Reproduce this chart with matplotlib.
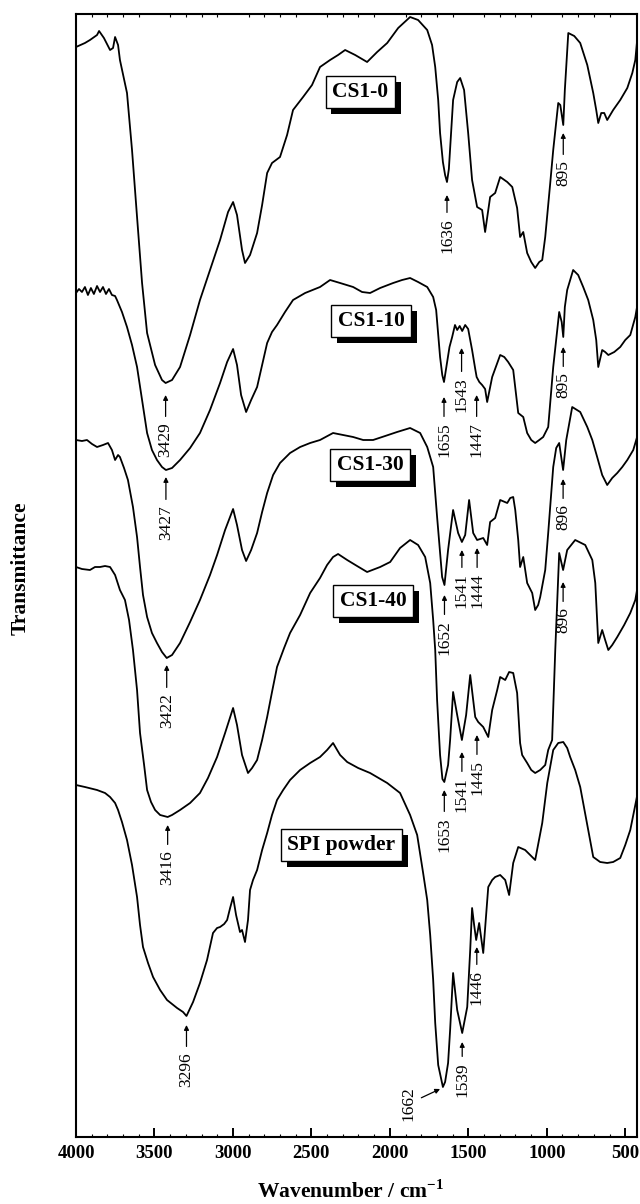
import matplotlib.pyplot as plt
import matplotlib.patheffects as pe
from matplotlib.ticker import MultipleLocator

plt.rcParams['font.family'] = ['Liberation Serif', 'DejaVu Serif']
plt.rcParams['mathtext.fontset'] = 'custom'
plt.rcParams['mathtext.rm'] = 'Liberation Serif:bold'
plt.rcParams['mathtext.bf'] = 'Liberation Serif:bold'

# FTIR spectra, wavenumber (cm-1) and stacked transmittance (a.u.)
cs0_wn = [4000, 3943, 3911, 3866, 3853, 3822, 3783, 3764, 3751, 3732, 3720, 3675, 3643, 3611, 3579,
          3547, 3496, 3452, 3429, 3388, 3337, 3273, 3210, 3146, 3082, 3031, 2999, 2974, 2942, 2923,
          2891, 2846, 2814, 2782, 2751, 2700, 2655, 2617, 2553, 2496, 2445, 2381, 2330, 2285, 2221,
          2145, 2081, 2017, 1947, 1871, 1820, 1762, 1731, 1711, 1692, 1680, 1662, 1648, 1636, 1624,
          1597, 1571, 1552, 1527, 1501, 1476, 1444, 1412, 1393, 1361, 1329, 1297, 1252, 1220, 1189,
          1170, 1150, 1125, 1099, 1074, 1048, 1029, 1010, 978, 959, 927, 914, 895, 885, 863,
          825, 787, 742, 704, 685, 672, 653, 634, 615, 577, 532, 487, 455, 436, 424]
cs0_t = [1090, 1094, 1097, 1102, 1106, 1099, 1087, 1089, 1100, 1092, 1077, 1044, 987, 920, 854,
         804, 772, 757, 754, 757, 770, 802, 837, 867, 897, 925, 935, 922, 887, 874,
         882, 904, 932, 964, 974, 980, 1002, 1027, 1040, 1052, 1070, 1077, 1082, 1087, 1082,
         1075, 1085, 1094, 1109, 1120, 1117, 1107, 1092, 1070, 1037, 1004, 975, 962, 955, 968,
         1037, 1055, 1059, 1047, 1004, 957, 930, 927, 905, 940, 944, 960, 955, 950, 929,
         900, 905, 884, 875, 869, 875, 877, 900, 954, 987, 1034, 1032, 1012, 1047, 1104,
         1101, 1094, 1072, 1044, 1027, 1014, 1024, 1024, 1017, 1027, 1037, 1049, 1064, 1077, 1097]

cs10_wn = [4000, 3981, 3962, 3943, 3924, 3905, 3886, 3866, 3847, 3828, 3809, 3790, 3771, 3751, 3739,
           3707, 3675, 3643, 3611, 3579, 3547, 3516, 3484, 3452, 3427, 3388, 3337, 3273, 3210, 3146,
           3082, 3037, 2999, 2974, 2948, 2916, 2884, 2846, 2814, 2782, 2751, 2719, 2668, 2617, 2540,
           2445, 2381, 2317, 2234, 2177, 2126, 2062, 1979, 1922, 1871, 1820, 1762, 1724, 1705, 1680,
           1666, 1655, 1640, 1620, 1603, 1585, 1571, 1555, 1539, 1520, 1501, 1476, 1456, 1447, 1430,
           1412, 1393, 1380, 1348, 1297, 1271, 1246, 1214, 1182, 1150, 1125, 1099, 1074, 1048, 1023,
           991, 959, 921, 905, 895, 885, 870, 832, 800, 768, 736, 704, 685, 672, 647,
           628, 608, 570, 532, 500, 468, 436, 417]
cs10_t = [844, 848, 845, 850, 842, 849, 843, 851, 845, 850, 843, 848, 842, 841, 837,
          825, 810, 792, 770, 737, 704, 687, 677, 670, 667, 669, 677, 689, 704, 727,
          754, 775, 788, 772, 742, 725, 737, 750, 772, 794, 805, 812, 825, 837, 844,
          850, 857, 854, 850, 845, 844, 849, 854, 857, 859, 855, 850, 840, 827, 780,
          762, 755, 770, 790, 800, 812, 807, 811, 806, 812, 808, 787, 768, 760, 755,
          752, 748, 735, 760, 782, 780, 775, 767, 724, 720, 704, 697, 694, 697, 700,
          710, 770, 825, 815, 800, 830, 847, 867, 862, 850, 837, 817, 797, 770, 787,
          785, 782, 785, 790, 797, 802, 820, 837]

cs30_wn = [4000, 3962, 3930, 3898, 3866, 3828, 3796, 3771, 3751, 3732, 3720, 3694, 3669, 3637, 3611,
           3592, 3573, 3547, 3516, 3484, 3452, 3422, 3388, 3337, 3273, 3210, 3146, 3101, 3050, 2999,
           2974, 2942, 2916, 2884, 2846, 2814, 2782, 2744, 2700, 2636, 2572, 2508, 2445, 2362, 2298,
           2234, 2170, 2107, 2030, 1954, 1871, 1807, 1762, 1724, 1699, 1667, 1652, 1629, 1597, 1565,
           1541, 1520, 1495, 1469, 1444, 1405, 1380, 1361, 1329, 1297, 1252, 1233, 1214, 1201, 1182,
           1170, 1150, 1125, 1093, 1074, 1055, 1042, 1010, 991, 959, 940, 921, 896, 876, 838,
           787, 742, 710, 679, 647, 615, 583, 551, 519, 487, 449, 417]
cs30_t = [697, 696, 697, 693, 690, 692, 694, 687, 677, 682, 680, 669, 657, 630, 600,
          570, 542, 520, 504, 494, 485, 479, 482, 494, 515, 537, 562, 582, 607, 628,
          612, 587, 576, 587, 604, 625, 644, 662, 674, 684, 690, 694, 697, 704, 702,
          700, 697, 697, 701, 705, 709, 704, 690, 670, 620, 560, 552, 587, 627, 604,
          595, 602, 637, 604, 597, 599, 592, 615, 619, 637, 634, 639, 640, 627, 597,
          570, 580, 554, 544, 527, 532, 540, 567, 604, 670, 689, 694, 667, 697, 730,
          725, 710, 697, 680, 662, 652, 659, 664, 670, 677, 687, 704]

cs40_wn = [4000, 3962, 3911, 3879, 3847, 3815, 3783, 3751, 3720, 3688, 3662, 3637, 3611, 3592, 3566,
           3547, 3522, 3496, 3464, 3416, 3388, 3337, 3273, 3210, 3159, 3101, 3050, 2999, 2974, 2942,
           2904, 2878, 2846, 2814, 2782, 2751, 2719, 2674, 2636, 2572, 2508, 2445, 2400, 2362, 2330,
           2272, 2209, 2145, 2062, 1998, 1935, 1871, 1820, 1775, 1743, 1724, 1711, 1699, 1680, 1665,
           1653, 1629, 1616, 1597, 1571, 1541, 1514, 1488, 1469, 1456, 1437, 1405, 1373, 1348, 1316,
           1297, 1265, 1240, 1214, 1189, 1170, 1157, 1125, 1099, 1074, 1042, 1010, 991, 966, 946,
           921, 896, 870, 819, 755, 710, 691, 672, 647, 628, 608, 583, 551, 507, 468,
           436, 417]
cs40_t = [570, 568, 567, 570, 570, 571, 570, 562, 547, 537, 517, 487, 447, 404, 372,
          347, 335, 327, 322, 320, 322, 327, 334, 344, 359, 380, 404, 429, 412, 382,
          364, 369, 377, 397, 420, 445, 470, 489, 504, 522, 544, 559, 572, 580, 583,
          577, 571, 565, 570, 575, 589, 597, 592, 580, 554, 517, 487, 437, 382, 358,
          355, 372, 397, 445, 422, 397, 422, 462, 437, 420, 415, 410, 400, 427, 447,
          460, 457, 465, 464, 444, 394, 382, 374, 367, 364, 367, 372, 387, 397, 487,
          584, 567, 587, 597, 592, 577, 554, 494, 507, 497, 487, 492, 500, 512, 524,
          537, 554]

spi_wn = [4000, 3943, 3866, 3815, 3783, 3751, 3732, 3707, 3675, 3643, 3611, 3592, 3573, 3541, 3509,
          3464, 3420, 3356, 3318, 3296, 3254, 3210, 3165, 3127, 3101, 3082, 3056, 3037, 3018, 2999,
          2980, 2955, 2942, 2923, 2904, 2891, 2872, 2846, 2814, 2782, 2751, 2719, 2680, 2636, 2572,
          2508, 2445, 2400, 2362, 2336, 2317, 2272, 2202, 2126, 2017, 1935, 1871, 1826, 1788, 1762,
          1743, 1724, 1711, 1692, 1662, 1648, 1629, 1616, 1597, 1571, 1539, 1507, 1488, 1476, 1463,
          1450, 1431, 1405, 1373, 1348, 1329, 1297, 1265, 1240, 1214, 1182, 1138, 1106, 1074, 1029,
          997, 959, 927, 895, 870, 851, 819, 787, 736, 704, 660, 615, 577, 532, 500,
          468, 436, 417]
spi_t = [352, 350, 347, 344, 340, 334, 327, 315, 297, 272, 240, 212, 190, 174, 160,
         147, 137, 129, 125, 121, 135, 154, 177, 204, 209, 210, 213, 217, 229, 240,
         222, 205, 207, 195, 217, 247, 257, 267, 287, 304, 322, 337, 347, 357, 367,
         374, 380, 387, 394, 387, 382, 375, 369, 364, 354, 344, 322, 302, 264, 237,
         202, 157, 114, 72, 50, 55, 74, 107, 164, 127, 104, 130, 187, 229, 212,
         197, 214, 184, 250, 257, 260, 262, 257, 242, 274, 290, 287, 282, 277, 314,
         354, 387, 394, 395, 389, 380, 367, 350, 307, 280, 275, 274, 275, 279, 292,
         307, 332, 347]

sample_names = ['CS1-0', 'CS1-10', 'CS1-30', 'CS1-40', 'SPI powder']
name_pos = [(2190, 1045), (2119, 816), (2126, 672), (2107, 536), (2311, 292)]

# band assignments: (wavenumber, arrow tip, label top)
bands = [(3429, 742, 715), (1636, 942, 919), (895, 1004, 977),
         (3427, 660, 632), (1655, 740, 715), (1543, 789, 760), (1447, 742, 715), (895, 790, 765),
         (3422, 472, 444), (1652, 542, 517), (1541, 587, 564), (1444, 589, 564), (896, 658, 633),
         (3416, 312, 287), (1653, 347, 320), (1541, 385, 360), (1445, 402, 377), (896, 555, 530),
         (3296, 112, 85), (1539, 95, 75), (1446, 190, 167)]

fig = plt.figure(figsize=(6.4, 12.04), dpi=100)
ax = fig.add_axes([0.11875, 0.05565, 0.8766, 0.93272])

spectra = [(cs0_wn, cs0_t), (cs10_wn, cs10_t), (cs30_wn, cs30_t), (cs40_wn, cs40_t), (spi_wn, spi_t)]
for wn, t in spectra:
    ax.plot(wn, t, color='black', lw=1.3)

ax.set_xlim(4000, 425)
ax.set_ylim(0, 1123)
ax.set_xticks([4000, 3500, 3000, 2500, 2000, 1500, 1000, 500])
ax.xaxis.set_minor_locator(MultipleLocator(100))
ax.set_yticks([])
ax.tick_params(axis='x', which='major', direction='in', length=6.5, width=1.4,
               labelsize=13.5, pad=6, top=False)
ax.tick_params(axis='x', which='minor', direction='in', length=2, width=0.8, top=True)
for lab in ax.get_xticklabels():
    lab.set_fontweight('bold')
for sp in ax.spines.values():
    sp.set_linewidth(1.5)

# sample names in boxes with a solid drop shadow
for name, (x, y) in zip(sample_names, name_pos):
    txt = ax.text(x, y, name, ha='center', va='center', fontsize=15.5, fontweight='bold', zorder=4,
                  bbox=dict(boxstyle='square,pad=0.3', fc='white', ec='black', lw=1))
    txt.get_bbox_patch().set_path_effects(
        [pe.SimplePatchShadow(offset=(4.3, -4.3), shadow_rgbFace='black', alpha=1.0), pe.Normal()])

arrow = dict(arrowstyle='-|>', color='black', lw=0.9, mutation_scale=7, shrinkA=2, shrinkB=0)
for wn, tip, top in bands:
    ax.annotate(str(wn), xy=(wn, tip), xytext=(wn, top), rotation=90, ha='center', va='top',
                fontsize=12.5, arrowprops=arrow)
ax.annotate('1662', xy=(1680, 48), xytext=(1884, 33), rotation=90, ha='center', va='center',
            fontsize=12.5, arrowprops=arrow)

fig.text(0.033, 0.528, 'Transmittance', rotation=90, ha='center', va='center',
         fontsize=15.5, fontweight='bold')
fig.text(0.547, 0.01, r'Wavenumber / cm$^{\mathbf{-1}}$', ha='center', va='center',
         fontsize=15.5, fontweight='bold')

fig.savefig('out.png', dpi=100)
